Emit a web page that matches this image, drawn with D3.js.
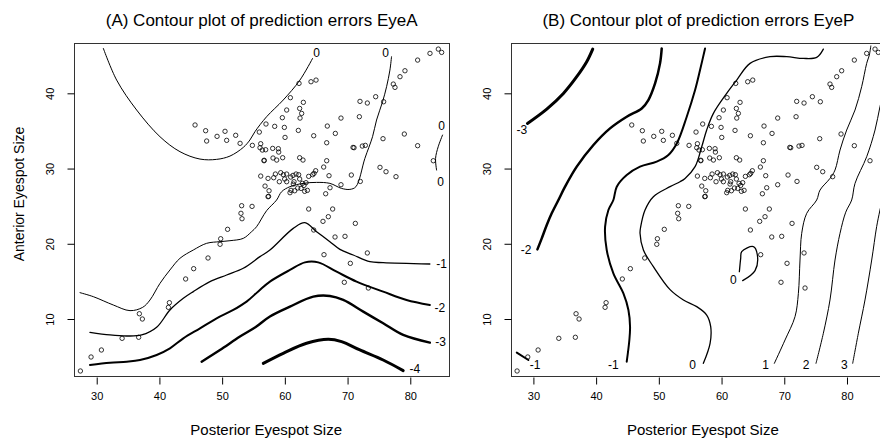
<!DOCTYPE html>
<html>
<head>
<meta charset="utf-8">
<script src="https://cdn.jsdelivr.net/npm/d3@7"></script>
<style>
  body { margin: 0; background: #fff; }
  svg { display: block; font-family: "Liberation Sans", Arial, sans-serif; }
</style>
</head>
<body>
<div id="chart"></div>
<script>
// observed eyespot sizes (same points in both panels)
var postSize = [45.68,47.37,47.53,49.19,50.46,50.72,52.16,52.86,53.11,53.0,53.17,50.87,49.77,49.67,47.75,45.46,44.18,41.59,41.43,36.8,37.28,34.05,36.69,30.75,29.1,27.4,
  83.14,84.47,85.0,81.17,79.15,78.36,77.29,77.56,74.48,75.75,71.98,73.15,71.88,68.95,79.05,75.65,81.17,83.67,75.17,76.13,77.72,72.03,70.6,68.95,71.24,
  62.26,64.17,64.97,60.88,62.95,60.29,62.36,62.68,62.42,59.6,56.99,55.93,58.38,59.92,62.15,60.03,64.6,66.77,68.05,66.67,70.87,71.03,72.35,72.83,
  54.82,56.15,56.04,56.41,56.94,58.06,58.96,59.02,56.68,56.7,58.11,58.7,59.65,62.36,62.89,66.67,66.19,67.04,64.91,64.65,64.44,63.8,
  56.15,57.32,58.22,58.49,59.12,59.34,59.76,60.29,59.97,60.29,60.93,61.3,61.46,61.78,62.2,62.36,61.35,61.57,60.82,60.98,62.05,62.58,62.79,63.05,63.37,63.16,63.59,
  56.84,57.48,57.32,57.4,67.2,66.51,54.77,63.8,67.62,66.93,66.08,64.6,68.0,69.59,66.24,73.15,70.44,69.48,73.31];
var antSize = [35.79,35.03,33.66,34.28,34.95,33.75,34.42,33.35,25.06,24.05,23.33,21.92,20.67,19.93,18.11,16.69,15.32,12.17,11.55,10.7,10.0,7.43,7.57,5.88,4.95,3.09,
  45.31,45.88,45.44,44.42,43.0,42.21,41.23,40.79,39.55,38.88,38.93,38.71,36.89,36.71,34.59,33.97,33.04,31.04,30.16,29.58,28.92,28.29,29.14,27.85,22.71,
  41.32,41.54,41.76,39.42,38.8,37.78,37.99,37.33,36.71,36.76,35.92,34.85,35.61,35.47,35.07,34.14,34.36,35.65,34.67,33.43,32.81,32.77,32.99,33.08,
  33.08,33.3,32.77,32.46,32.5,32.68,32.64,32.19,31.04,31.1,31.4,31.13,31.44,31.44,31.13,31.04,30.2,29.05,29.71,29.36,29.18,28.96,
  29.0,28.69,28.78,29.27,28.25,29.45,29.18,29.27,28.61,28.25,28.87,29.09,28.25,29.27,29.18,28.61,27.94,27.05,26.79,27.1,27.41,27.36,28.03,27.76,28.12,26.97,27.1,
  27.67,27.05,26.26,26.3,27.45,26.65,24.97,24.62,24.62,23.6,22.98,21.83,20.9,20.99,18.55,18.78,17.4,14.88,14.12];

var xTicks = [30, 40, 50, 60, 70, 80];
var yTicks = [10, 20, 30, 40];

// contour lines of panel A (EyeA): [posterior, anterior]
var a0Upper = [[31.06,45.97],[33.18,41.76],[36.37,37.78],[40.09,34.23],[43.28,32.24],[46.47,31.26],[49.12,31.22],[51.25,31.66],[53.37,32.81],[54.43,33.8],[55.23,34.9],[57.09,36.89],[59.74,39.11],[62.4,41.76],[64.42,44.64]];
var a0Lower = [[77.01,44.87],[76.75,43.09],[76.22,40.88],[75.58,38.88],[74.62,36.45],[73.98,34.23],[72.76,31.35],[71.33,27.59],[70.37,27.23],[69.04,27.36],[67.18,28.03],[65.06,28.16],[62.93,28.03],[60.81,27.59],[59.48,26.92],[58.68,25.81],[57.09,24.4],[55.49,22.27],[54.7,21.61],[53.37,20.72],[51.25,20.41],[49.65,20.28],[47.53,20.06],[45.4,19.17],[43.28,18.07],[41.68,16.52],[40.09,14.74],[38.5,12.53],[37.33,11.55],[35.31,11.11],[32.65,11.86],[29.46,12.97],[27.34,13.5]];
var a0Edge = [[85.14,34.45],[84.45,32.9],[84.03,31.35],[84.19,29.8]];
var aM1 = [[28.93,8.23],[32.12,7.88],[34.78,7.74],[37.17,7.88],[39.56,8.9],[41.68,11.2],[43.81,12.75],[45.4,13.64],[48.06,14.96],[50.72,15.85],[53.37,16.74],[56.03,18.29],[57.62,19.17],[61.34,22.05],[63.2,22.81],[65.06,21.61],[67.18,20.28],[68.78,19.26],[70.9,18.51],[73.56,17.62],[75.68,17.49],[83.12,17.31]];
var aM2 = [[28.93,3.89],[32.12,4.2],[34.78,4.33],[36.9,4.55],[39.56,5.22],[41.68,6.1],[43.81,7.43],[46.47,8.76],[49.12,10.09],[51.78,11.2],[53.9,12.31],[55.8,13.7],[57.62,14.97],[60.81,16.52],[63.2,17.53],[65.32,17.53],[68.25,16.29],[71.43,14.97],[75.68,13.64],[79.4,12.53],[83.12,11.86]];
var aM3 = [[46.73,4.33],[49.65,5.88],[52.84,7.66],[55.3,8.9],[57.62,10.33],[60.81,11.64],[64.53,12.97],[67.18,13.06],[69.31,12.53],[72.5,10.98],[75.68,9.43],[78.87,7.88],[83.12,6.86]];
var aM4 = [[56.56,4.11],[59.74,5.44],[63.46,6.77],[66.92,7.3],[69.04,6.99],[71.96,5.88],[75.68,4.55],[78.87,3.14]];

// contour lines of panel B (EyeP)
var bM3 = [[29.05,36.0],[32.13,37.91],[34.78,39.99],[36.91,42.21],[38.5,44.2],[39.46,45.88]];
var bM2 = [[50.46,45.97],[50.19,43.98],[49.4,41.32],[48.33,39.11],[47.27,37.99],[44.88,36.89],[42.22,35.34],[39.57,33.13],[36.91,30.25],[35.05,27.59],[33.99,25.82],[32.92,24.05],[32.13,22.5],[31.33,20.72],[30.64,19.26]];
var bM1Corner = [[27.35,5.53],[29.2,4.55]];
var bM1 = [[44.88,4.33],[45.3,7.21],[45.41,8.98],[45.15,11.2],[44.35,13.41],[42.75,16.07],[41.69,19.17],[41.43,22.28],[41.96,24.49],[42.75,25.82],[43.29,27.59],[44.88,29.14],[47.0,30.25],[49.66,30.91],[51.52,31.8],[52.9,33.4],[54.45,36.89],[55.78,40.43],[56.57,43.09],[57.37,45.97]];
var b0 = [[76.23,45.88],[75.17,44.78],[73.04,44.64],[70.39,44.87],[67.73,44.87],[64.54,43.98],[62.42,41.76],[60.82,39.99],[58.7,37.33],[57.63,35.12],[56.84,32.9],[55.78,30.25],[54.18,28.69],[53.38,28.25],[51.79,27.59],[49.13,26.26],[47.8,24.49],[47.11,22.27],[47.0,21.39],[47.54,19.17],[49.13,16.96],[51.79,13.9],[53.92,12.53],[56.04,11.64],[57.63,10.53],[58.27,8.98],[58.17,6.77],[57.1,4.11]];
var b0Loop = [[62.84,16.29],[63.05,18.07],[63.21,18.95],[65.07,19.62],[65.71,18.51],[65.34,16.43],[63.37,15.1]];
var b1 = [[68.42,4.11],[70.12,7.21],[71.72,10.33],[72.25,13.41],[72.51,17.84],[72.78,21.39],[73.58,24.05],[75.17,25.82],[75.7,27.14],[77.29,28.69],[78.09,29.8],[78.89,32.46],[79.95,35.12],[81.28,37.78],[82.34,40.88],[83.14,43.98],[83.56,45.09],[83.8,46.3]];
var b2 = [[75.06,4.11],[76.23,8.1],[77.29,12.53],[78.09,17.84],[78.89,21.39],[79.8,24.2],[80.75,25.82],[81.28,28.03],[83.14,31.57],[84.47,35.12],[85.26,38.22],[86.2,41.5]];
var b3 = [[80.91,4.11],[81.81,8.1],[82.87,12.53],[83.94,17.84],[84.73,22.28],[85.26,24.49],[86.2,28.0]];

var W = 880, H = 441;
var svg = d3.select("#chart").append("svg").attr("width", W).attr("height", H);

function panel(left, title, lines, labels, yTitle) {
  var right = left + 375.3, top = 43.3, bottom = 376.7;
  var x = d3.scaleLinear().domain([26.38, 86.22]).range([left, right]);
  var y = d3.scaleLinear().domain([2.33, 46.65]).range([bottom, top]);
  var g = svg.append("g");
  var id = "clip" + Math.round(left);
  g.append("clipPath").attr("id", id).append("rect")
    .attr("x", left).attr("y", top).attr("width", right - left).attr("height", bottom - top);

  var line = d3.line().x(function(d){ return x(d[0]); }).y(function(d){ return y(d[1]); })
    .curve(d3.curveCatmullRom.alpha(0.5));
  g.append("g").attr("clip-path", "url(#" + id + ")").selectAll("path").data(lines).enter()
    .append("path").attr("d", function(d){ return line(d.pts); })
    .attr("fill", "none").attr("stroke", "#000").attr("stroke-width", function(d){ return d.w; })
    .attr("stroke-linejoin", "round").attr("stroke-linecap", "round");

  g.selectAll("text.lab").data(labels).enter().append("text").attr("class", "lab")
    .attr("x", function(d){ return x(d[0]); }).attr("y", function(d){ return y(d[1]) + 4.3; })
    .attr("text-anchor", "middle").attr("font-size", 12).text(function(d){ return d[2]; });

  g.selectAll("circle").data(postSize).enter().append("circle")
    .attr("cx", function(d){ return x(d); }).attr("cy", function(d, i){ return y(antSize[i]); })
    .attr("r", 2.2).attr("fill", "none").attr("stroke", "#000").attr("stroke-width", 0.8);

  g.append("rect").attr("x", Math.round(left) + 0.5).attr("y", Math.round(top) + 0.5)
    .attr("width", Math.round(right - left)).attr("height", Math.round(bottom - top))
    .attr("fill", "none").attr("stroke", "#333").attr("stroke-width", 1);

  var xa = g.append("g").attr("transform", "translate(0," + (Math.round(bottom) + 0.5) + ")")
    .call(d3.axisBottom(x).tickValues(xTicks).tickSize(7).tickPadding(8).tickFormat(d3.format("d")));
  xa.select(".domain").remove();
  xa.selectAll("text").attr("font-size", 11).attr("font-family", "Liberation Sans, Arial, sans-serif");

  // y axis: R-style labels turned parallel to the axis
  var ya = g.append("g").attr("transform", "translate(" + (Math.round(left) + 0.5) + ",0)")
    .call(d3.axisLeft(y).tickValues(yTicks).tickSize(7).tickFormat(d3.format("d")));
  ya.select(".domain").remove();
  ya.selectAll("text").attr("font-size", 11).attr("font-family", "Liberation Sans, Arial, sans-serif")
    .attr("text-anchor", "middle").attr("dy", null)
    .attr("x", 0).attr("y", -21).attr("transform", "rotate(-90)");

  svg.append("text").attr("x", (left + right) / 2).attr("y", 26).attr("text-anchor", "middle")
    .attr("font-size", 17).text(title);
  svg.append("text").attr("x", left + 192.2).attr("y", 434.7).attr("text-anchor", "middle")
    .attr("font-size", 15).text("Posterior Eyespot Size");
  if (yTitle) {
    svg.append("text").attr("transform", "translate(24.3,194) rotate(-90)").attr("text-anchor", "middle")
      .attr("font-size", 14).text(yTitle);
  }
}

panel(74, "(A) Contour plot of prediction errors EyeA", [
  {pts: a0Upper, w: 1}, {pts: a0Lower, w: 1}, {pts: a0Edge, w: 1},
  {pts: aM1, w: 1.3}, {pts: aM2, w: 2}, {pts: aM3, w: 2.4}, {pts: aM4, w: 3}
], [[65.06,45.4,"0"],[76.06,45.4,"0"],[84.98,35.65,"0"],[84.82,28.25,"0"],
    [84.98,17.31,"-1"],[84.72,11.55,"-2"],[84.82,6.99,"-3"],[80.73,3.45,"-4"]],
  "Anterior Eyespot Size");

panel(510.7, "(B) Contour plot of prediction errors EyeP", [
  {pts: bM3, w: 3}, {pts: bM2, w: 2.5}, {pts: bM1Corner, w: 2}, {pts: bM1, w: 2},
  {pts: b0, w: 1.3}, {pts: b0Loop, w: 1.3}, {pts: b1, w: 1}, {pts: b2, w: 1}, {pts: b3, w: 1}
], [[28.14,35.12,"-3"],[28.83,19.26,"-2"],[30.27,3.98,"-1"],[42.75,3.98,"-1"],[55.4,3.98,"0"],
    [61.89,15.28,"0"],[67.04,3.98,"1"],[73.47,3.98,"2"],[79.58,3.98,"3"]], null);
</script>
</body>
</html>
